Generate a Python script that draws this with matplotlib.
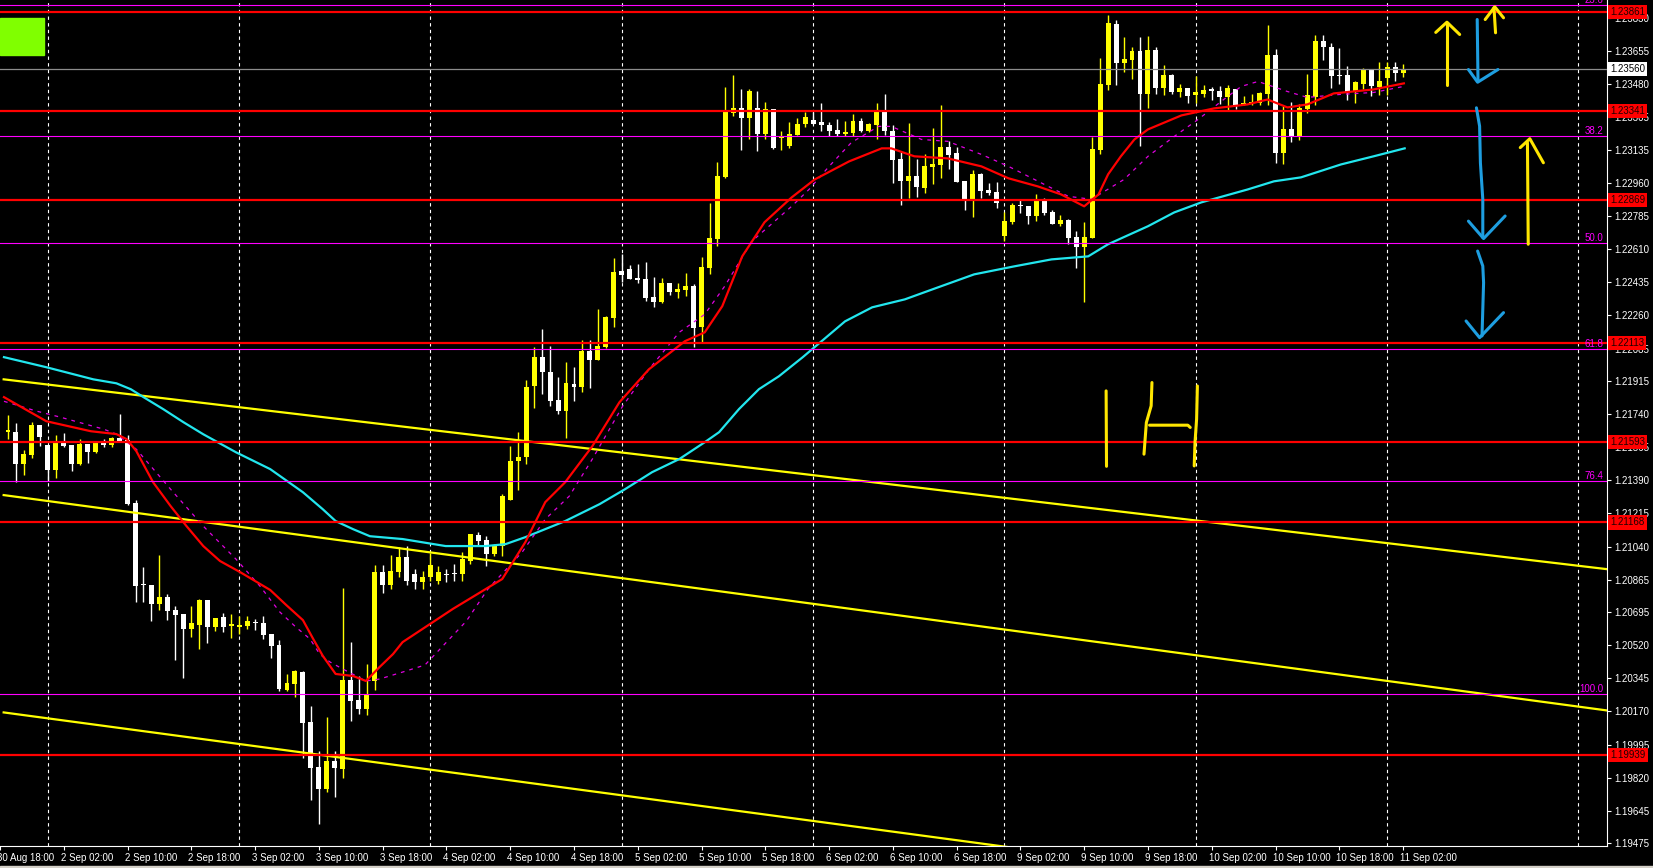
import matplotlib.pyplot as plt
import matplotlib.transforms as mtransforms
import numpy as np
from matplotlib.patches import Rectangle

plt.rcParams["font.family"] = ["Liberation Sans", "DejaVu Sans"]

# EURUSD H1, bar index 0 = 2 Sep 00:00 (weekend gap removed)
first_bar = -5
opens = [
    1.21644, 1.21644, 1.21476, 1.21523, 1.21681, 1.21576, 1.21444, 1.21592, 1.21576, 1.21476,
    1.21581, 1.21539, 1.21592, 1.21576, 1.21613, 1.21602, 1.21270, 1.20843, 1.20837, 1.20737,
    1.20774, 1.20706, 1.20685, 1.20605, 1.20626, 1.20758, 1.20616, 1.20669, 1.20621, 1.20616,
    1.20621, 1.20642, 1.20637, 1.20579, 1.20521, 1.20284, 1.20315, 1.20379, 1.20115, 1.19878,
    1.19762, 1.19909, 1.19867, 1.20336, 1.20231, 1.20183, 1.20331, 1.20906, 1.20837, 1.20906,
    1.20985, 1.20895, 1.20853, 1.20880, 1.20859, 1.20895, 1.20895, 1.20895, 1.20964, 1.21101,
    1.21075, 1.21001, 1.21043, 1.21286, 1.21491, 1.21512, 1.21887, 1.22040, 1.21961, 1.21813,
    1.21755, 1.21897, 1.21882, 1.22072, 1.22024, 1.22093, 1.22246, 1.22493, 1.22504, 1.22457,
    1.22451, 1.22356, 1.22330, 1.22430, 1.22383, 1.22393, 1.22414, 1.22198, 1.22509, 1.22662,
    1.22989, 1.23327, 1.23353, 1.23300, 1.23353, 1.23216, 1.23348, 1.23195, 1.23153, 1.23211,
    1.23269, 1.23290, 1.23279, 1.23264, 1.23237, 1.23216, 1.23221, 1.23285, 1.23232, 1.23264,
    1.23337, 1.23232, 1.23084, 1.22968, 1.22995, 1.22931, 1.23042, 1.23052, 1.23147, 1.23116,
    1.22968, 1.22873, 1.23005, 1.22921, 1.22910, 1.22678, 1.22752, 1.22842, 1.22836, 1.22784,
    1.22868, 1.22805, 1.22741, 1.22762, 1.22673, 1.22620, 1.22667, 1.23132, 1.23474, 1.23796,
    1.23590, 1.23606, 1.23654, 1.23427, 1.23659, 1.23459, 1.23527, 1.23437, 1.23459, 1.23422,
    1.23427, 1.23453, 1.23443, 1.23411, 1.23453, 1.23369, 1.23374, 1.23380, 1.23427, 1.23633,
    1.23116, 1.23242, 1.23206, 1.23348, 1.23411, 1.23707, 1.23675, 1.23527, 1.23527, 1.23437,
    1.23480, 1.23554, 1.23464, 1.23511, 1.23569, 1.23538,
]
highs = [
    1.21734, 1.21692, 1.21549, 1.21697, 1.21681, 1.21576, 1.21628, 1.21639, 1.21576, 1.21607,
    1.21581, 1.21592, 1.21607, 1.21618, 1.21739, 1.21628, 1.21286, 1.20932, 1.20837, 1.20996,
    1.20790, 1.20727, 1.20685, 1.20727, 1.20764, 1.20758, 1.20663, 1.20690, 1.20685, 1.20674,
    1.20674, 1.20658, 1.20674, 1.20579, 1.20547, 1.20368, 1.20389, 1.20384, 1.20199, 1.19962,
    1.20141, 1.19962, 1.20822, 1.20537, 1.20357, 1.20421, 1.20943, 1.20943, 1.20996, 1.21038,
    1.21043, 1.20922, 1.20911, 1.21006, 1.20938, 1.20922, 1.20948, 1.21011, 1.21106, 1.21117,
    1.21096, 1.21054, 1.21317, 1.21570, 1.21644, 1.21919, 1.22093, 1.22188, 1.22098, 1.21934,
    1.22014, 1.21987, 1.22130, 1.22130, 1.22293, 1.22256, 1.22562, 1.22583, 1.22525, 1.22530,
    1.22541, 1.22462, 1.22457, 1.22430, 1.22430, 1.22483, 1.22425, 1.22567, 1.22852, 1.23068,
    1.23464, 1.23527, 1.23453, 1.23453, 1.23443, 1.23385, 1.23348, 1.23232, 1.23279, 1.23300,
    1.23332, 1.23332, 1.23380, 1.23279, 1.23295, 1.23285, 1.23322, 1.23300, 1.23274, 1.23380,
    1.23427, 1.23264, 1.23121, 1.23274, 1.23084, 1.23111, 1.23248, 1.23369, 1.23179, 1.23147,
    1.22968, 1.23026, 1.23010, 1.22958, 1.22963, 1.22805, 1.22852, 1.22873, 1.22836, 1.22900,
    1.22879, 1.22815, 1.22789, 1.22768, 1.22704, 1.22752, 1.23200, 1.23617, 1.23844, 1.23817,
    1.23728, 1.23675, 1.23728, 1.23733, 1.23675, 1.23580, 1.23532, 1.23480, 1.23459, 1.23522,
    1.23474, 1.23464, 1.23469, 1.23474, 1.23453, 1.23416, 1.23427, 1.23437, 1.23791, 1.23664,
    1.23364, 1.23385, 1.23374, 1.23532, 1.23738, 1.23738, 1.23696, 1.23670, 1.23575, 1.23496,
    1.23564, 1.23554, 1.23596, 1.23596, 1.23596, 1.23585,
]
lows = [
    1.21607, 1.21381, 1.21418, 1.21507, 1.21570, 1.21386, 1.21402, 1.21565, 1.21439, 1.21470,
    1.21481, 1.21534, 1.21565, 1.21565, 1.21597, 1.21259, 1.20748, 1.20748, 1.20648, 1.20706,
    1.20653, 1.20442, 1.20347, 1.20563, 1.20500, 1.20531, 1.20595, 1.20590, 1.20558, 1.20579,
    1.20605, 1.20600, 1.20553, 1.20452, 1.20278, 1.20278, 1.20247, 1.19925, 1.19704, 1.19577,
    1.19746, 1.19719, 1.19820, 1.20120, 1.20157, 1.20152, 1.20284, 1.20795, 1.20816, 1.20880,
    1.20837, 1.20816, 1.20816, 1.20859, 1.20843, 1.20853, 1.20859, 1.20859, 1.20948, 1.21043,
    1.20938, 1.20990, 1.20990, 1.21286, 1.21338, 1.21476, 1.21771, 1.21845, 1.21782, 1.21739,
    1.21613, 1.21808, 1.21855, 1.21876, 1.22024, 1.22087, 1.22198, 1.22435, 1.22451, 1.22430,
    1.22335, 1.22304, 1.22325, 1.22367, 1.22351, 1.22362, 1.22093, 1.22114, 1.22478, 1.22625,
    1.22984, 1.23311, 1.23132, 1.23190, 1.23126, 1.23190, 1.23137, 1.23132, 1.23142, 1.23211,
    1.23253, 1.23269, 1.23232, 1.23206, 1.23206, 1.23206, 1.23206, 1.23227, 1.23227, 1.23190,
    1.23211, 1.22958, 1.22842, 1.22879, 1.22884, 1.22905, 1.22952, 1.22984, 1.23031, 1.22963,
    1.22815, 1.22778, 1.22879, 1.22894, 1.22826, 1.22652, 1.22741, 1.22799, 1.22741, 1.22757,
    1.22789, 1.22741, 1.22731, 1.22636, 1.22509, 1.22330, 1.22667, 1.23111, 1.23448, 1.23474,
    1.23543, 1.23506, 1.23153, 1.23353, 1.23427, 1.23422, 1.23427, 1.23411, 1.23380, 1.23380,
    1.23411, 1.23395, 1.23374, 1.23343, 1.23348, 1.23369, 1.23369, 1.23369, 1.23369, 1.23063,
    1.23058, 1.23174, 1.23184, 1.23327, 1.23369, 1.23606, 1.23459, 1.23480, 1.23395, 1.23380,
    1.23453, 1.23416, 1.23422, 1.23422, 1.23496, 1.23517,
]
closes = [
    1.21655, 1.21476, 1.21528, 1.21681, 1.21618, 1.21444, 1.21592, 1.21570, 1.21476, 1.21581,
    1.21539, 1.21592, 1.21576, 1.21613, 1.21597, 1.21265, 1.20832, 1.20837, 1.20737, 1.20774,
    1.20700, 1.20679, 1.20605, 1.20637, 1.20758, 1.20616, 1.20663, 1.20616, 1.20632, 1.20626,
    1.20648, 1.20637, 1.20574, 1.20516, 1.20289, 1.20321, 1.20384, 1.20110, 1.19872, 1.19762,
    1.19909, 1.19872, 1.20336, 1.20226, 1.20183, 1.20257, 1.20906, 1.20837, 1.20911, 1.20985,
    1.20859, 1.20853, 1.20880, 1.20943, 1.20906, 1.20890, 1.20895, 1.20975, 1.21106, 1.21070,
    1.21001, 1.21048, 1.21307, 1.21491, 1.21512, 1.21882, 1.22040, 1.21961, 1.21808, 1.21755,
    1.21903, 1.21882, 1.22072, 1.22024, 1.22098, 1.22251, 1.22488, 1.22472, 1.22451, 1.22446,
    1.22351, 1.22330, 1.22430, 1.22383, 1.22399, 1.22414, 1.22193, 1.22515, 1.22667, 1.22995,
    1.23332, 1.23353, 1.23300, 1.23443, 1.23216, 1.23348, 1.23142, 1.23206, 1.23216, 1.23269,
    1.23306, 1.23269, 1.23264, 1.23232, 1.23216, 1.23227, 1.23285, 1.23232, 1.23269, 1.23337,
    1.23232, 1.23079, 1.22968, 1.22995, 1.22937, 1.23047, 1.23058, 1.23147, 1.23105, 1.22963,
    1.22873, 1.23005, 1.22915, 1.22905, 1.22852, 1.22757, 1.22842, 1.22836, 1.22784, 1.22868,
    1.22799, 1.22741, 1.22762, 1.22667, 1.22620, 1.22673, 1.23137, 1.23480, 1.23801, 1.23590,
    1.23612, 1.23654, 1.23427, 1.23659, 1.23459, 1.23527, 1.23437, 1.23459, 1.23416, 1.23437,
    1.23448, 1.23443, 1.23411, 1.23459, 1.23369, 1.23380, 1.23385, 1.23432, 1.23633, 1.23116,
    1.23242, 1.23206, 1.23353, 1.23422, 1.23707, 1.23675, 1.23522, 1.23522, 1.23437, 1.23490,
    1.23554, 1.23469, 1.23496, 1.23569, 1.23538, 1.23560,
]

# moving averages: (bar index, price)
red_ma_x = [-5.5, -0.2, 5.4, 8.6, 9.9, 11.1, 13.2, 15.4, 17.4, 19.5, 21.6, 24.1, 27.9, 29.9, 32.0,
            33.3, 34.5, 36.1, 38.3, 39.9, 41.6, 43.3, 44.5, 50.8, 57.0, 59.9, 62.4, 64.9, 68.3,
            71.7, 75.4, 79.9, 82.4, 84.6, 87.1, 89.9, 93.3, 96.2, 100.5, 104.6, 105.8, 108.7,
            112.9, 117.1, 120.5, 124.2, 127.1, 130.0, 131.8, 133.0, 134.6, 136.3, 138.0, 142.2,
            146.3, 150.5, 153.0, 155.5, 158.0, 161.3, 166.3, 170.1]
red_ma_y = [1.21829, 1.21702, 1.21649, 1.21634, 1.21607, 1.21544, 1.21380, 1.21254, 1.21148,
            1.21043, 1.20964, 1.20906, 1.20811, 1.20732, 1.20652, 1.20552, 1.20463, 1.20368,
            1.20357, 1.20331, 1.20404, 1.20473, 1.20536, 1.20711, 1.20869, 1.21064, 1.21275,
            1.21380, 1.21570, 1.21802, 1.21976, 1.22124, 1.22171, 1.22309, 1.22572, 1.22752,
            1.22883, 1.22978, 1.23073, 1.23142, 1.23142, 1.23100, 1.23089, 1.23047, 1.22984,
            1.22941, 1.22899, 1.22836, 1.22899, 1.23005, 1.23100, 1.23189, 1.23242, 1.23316,
            1.23353, 1.23374, 1.23400, 1.23358, 1.23374, 1.23432, 1.23453, 1.23485]
mag_ma_x = [-5.5, -1.4, 1.6, 7.0, 8.6, 11.1, 15.4, 19.5, 23.6, 26.6, 29.1, 31.1, 32.9, 34.1, 35.4,
            37.0, 39.9, 41.6, 44.5, 47.3, 52.5, 55.2, 59.5, 62.4, 65.4, 68.3, 72.1, 75.4, 79.2,
            82.4, 84.9, 88.3, 93.3, 95.5, 98.0, 100.8, 104.2, 105.8, 109.6, 112.9, 117.1, 120.5,
            125.5, 128.0, 130.9, 135.0, 138.0, 141.3, 144.3, 147.5, 149.7, 151.8, 155.5, 158.0,
            162.2, 166.3, 170.1]
mag_ma_y = [1.21807, 1.21755, 1.21723, 1.21660, 1.21634, 1.21554, 1.21343, 1.21148, 1.20974,
            1.20832, 1.20695, 1.20616, 1.20552, 1.20473, 1.20431, 1.20394, 1.20331, 1.20341,
            1.20378, 1.20415, 1.20647, 1.20816, 1.21011, 1.21185, 1.21306, 1.21502, 1.21781,
            1.21976, 1.22171, 1.22266, 1.22414, 1.22651, 1.22836, 1.22926, 1.23047, 1.23173,
            1.23258, 1.23258, 1.23189, 1.23179, 1.23110, 1.23047, 1.22941, 1.22889, 1.22873,
            1.22978, 1.23100, 1.23205, 1.23295, 1.23400, 1.23469, 1.23495, 1.23442, 1.23411,
            1.23427, 1.23437, 1.23469]
cyan_ma_x = [-5.5, -0.2, 5.7, 8.6, 10.4, 12.0, 14.5, 17.0, 19.5, 23.6, 27.9, 32.0, 34.5, 36.1,
             38.3, 40.4, 44.5, 49.9, 54.9, 57.4, 59.9, 64.9, 69.2, 72.4, 75.8, 79.2, 82.4, 84.2,
             86.7, 89.2, 91.7, 94.7, 100.0, 103.4, 107.5, 111.7, 116.2, 121.2, 125.9, 130.5,
             133.0, 138.0, 141.3, 144.7, 150.5, 153.8, 157.2, 162.2, 166.3, 170.2]
cyan_ma_y = [1.22040, 1.21987, 1.21923, 1.21902, 1.21871, 1.21829, 1.21765, 1.21697, 1.21633,
             1.21538, 1.21449, 1.21327, 1.21237, 1.21175, 1.21132, 1.21095, 1.21080, 1.21043,
             1.21043, 1.21053, 1.21090, 1.21175, 1.21264, 1.21343, 1.21433, 1.21502, 1.21591,
             1.21644, 1.21766, 1.21871, 1.21939, 1.22040, 1.22229, 1.22303, 1.22345, 1.22409,
             1.22477, 1.22519, 1.22556, 1.22572, 1.22636, 1.22731, 1.22804, 1.22857, 1.22925,
             1.22968, 1.22989, 1.23057, 1.23100, 1.23142]

# horizontal levels
red_levels = [1.23861, 1.23341, 1.22869, 1.22113, 1.21593, 1.21168, 1.19939]
fib_names = ["23.6", "38.2", "50.0", "61.8", "76.4", "100.0"]
fib_levels = [1.23896, 1.23205, 1.22640, 1.22082, 1.21385, 1.20263]
bid_price = 1.23560

# descending channel (start bar, start price, end bar, end price)
channel_lines = [
    (-5.54, 1.21923, 196.0, 1.20919),
    (-5.54, 1.21312, 196.0, 1.20173),
    (-5.54, 1.20165, 196.0, 1.19028),
]

price_ticks = [1.23830, 1.23655, 1.23480, 1.23305, 1.23135, 1.22960, 1.22785, 1.22610, 1.22435,
               1.22260, 1.22085, 1.21915, 1.21740, 1.21565, 1.21390, 1.21215, 1.21040, 1.20865,
               1.20695, 1.20520, 1.20345, 1.20170, 1.19995, 1.19820, 1.19645, 1.19475]
time_labels = ["30 Aug 18:00", "2 Sep 02:00", "2 Sep 10:00", "2 Sep 18:00", "3 Sep 02:00",
               "3 Sep 10:00", "3 Sep 18:00", "4 Sep 02:00", "4 Sep 10:00", "4 Sep 18:00",
               "5 Sep 02:00", "5 Sep 10:00", "5 Sep 18:00", "6 Sep 02:00", "6 Sep 10:00",
               "6 Sep 18:00", "9 Sep 02:00", "9 Sep 10:00", "9 Sep 18:00", "10 Sep 02:00",
               "10 Sep 10:00", "10 Sep 18:00", "11 Sep 02:00"]
day_starts = [0, 24, 48, 72, 96, 120, 144, 168, 192]

# hand drawn marks (bar index, price)
yellow_strokes = [
    ([175.5, 175.5], [1.23479, 1.23806]),
    ([174.1, 175.5, 177.1], [1.23754, 1.23808, 1.23743]),
    ([181.6, 181.4], [1.23752, 1.23884]),
    ([180.3, 181.5, 182.6], [1.23822, 1.23889, 1.23831]),
    ([185.7, 185.6], [1.22636, 1.23172]),
    ([184.7, 185.9, 187.6], [1.23146, 1.23193, 1.23066]),
    ([132.75, 132.8], [1.21862, 1.21464]),
    ([138.5, 138.4, 137.8, 137.5], [1.21906, 1.21783, 1.21695, 1.21528]),
    ([138.2, 143.0, 143.3], [1.21681, 1.21681, 1.21669]),
    ([144.2, 144.1, 143.9, 143.8], [1.21888, 1.21713, 1.21590, 1.21466]),
]
blue_strokes = [
    ([179.3, 179.4], [1.23822, 1.23497]),
    ([178.2, 179.35, 181.9], [1.23558, 1.23491, 1.23558]),
    ([179.2, 179.6, 179.7, 180.0, 180.0], [1.23356, 1.23259, 1.23066, 1.22873, 1.22671]),
    ([178.2, 180.1, 182.8], [1.22758, 1.22666, 1.22785]),
    ([179.35, 180.0, 180.1, 179.9], [1.22600, 1.22521, 1.22433, 1.22152]),
    ([177.9, 179.6, 182.6], [1.22231, 1.22143, 1.22275]),
]

W, H = 1653, 868
fig = plt.figure(figsize=(W / 100, H / 100), dpi=100, facecolor="black")
ax = fig.add_axes([0, 22 / H, 1607 / W, 846 / H], facecolor="black")

x = np.arange(first_bar, first_bar + len(opens))
o = np.array(opens)
c = np.array(closes)
bull = c > o
cols = np.where(bull, "#FFFF00", "#FFFFFF")

# vertical day grid
for d in day_starts:
    ax.axvline(d, color="white", lw=0.8, ls=(0, (3, 3)), zorder=1)

ax.vlines(x, lows, highs, colors=cols, lw=1, zorder=3)
body = np.maximum(np.abs(c - o), 0.00006)
ax.bar(x, body, bottom=np.minimum(o, c), width=0.62, color=cols, lw=0, zorder=3)

for x0, y0, x1, y1 in channel_lines:
    ax.plot([x0, x1], [y0, y1], color="#FFFF00", lw=1.6, zorder=4)

ax.plot(cyan_ma_x, cyan_ma_y, color="#22E6EE", lw=1.6, zorder=5)
ax.plot(mag_ma_x, mag_ma_y, color="#E000E0", lw=0.9, ls=(0, (3, 4)), zorder=5)
ax.plot(red_ma_x, red_ma_y, color="#FF0000", lw=1.6, zorder=5)

for p in fib_levels:
    ax.axhline(p, color="#FF00FF", lw=0.8, zorder=6)
for p in red_levels:
    ax.axhline(p, color="#FF0000", lw=1.6, zorder=6)
ax.axhline(bid_price, color="#8C8C8C", lw=0.9, zorder=6)

ytr = ax.get_yaxis_transform()
for name, p in zip(fib_names, fib_levels):
    ax.text(0.998, p, name, transform=ytr, ha="right", va="bottom", color="#FF00FF",
            fontsize=7, zorder=7)

for xs, ys in yellow_strokes:
    ax.plot(xs, ys, color="#FFE600", lw=2.2, solid_capstyle="round", solid_joinstyle="round",
            zorder=8)
for xs, ys in blue_strokes:
    ax.plot(xs, ys, color="#1E9EE0", lw=2.2, solid_capstyle="round", solid_joinstyle="round",
            zorder=8)

ax.add_patch(Rectangle((0, 1 - 55 / 846), 44 / 1607, 37 / 846, transform=ax.transAxes,
                       color="#80FF00", zorder=9))

ax.set_xlim(-5.54, 195.58)
ax.set_ylim(1.19460, 1.23925)

# price scale on the right
ax.yaxis.tick_right()
ax.set_yticks(price_ticks, [f"{v:.5f}" for v in price_ticks])
ax.tick_params(axis="y", colors="white", labelsize=7, length=3, width=0.8, pad=2)
ax.set_xticks(np.arange(-6, 171, 8), time_labels)
ax.tick_params(axis="x", colors="white", labelsize=7, length=3, width=0.8, pad=2)
shift = mtransforms.ScaledTranslation(-3 / 100, 0, fig.dpi_scale_trans)
for lbl in ax.get_xticklabels():
    lbl.set_ha("left")
    lbl.set_transform(lbl.get_transform() + shift)
for side in ["top", "left"]:
    ax.spines[side].set_visible(False)
for side in ["right", "bottom"]:
    ax.spines[side].set_color("white")
    ax.spines[side].set_linewidth(0.8)

for p in red_levels:
    ax.text(1.002, p, f"{p:.5f}", transform=ytr, ha="left", va="center", fontsize=7,
            color="#200000", clip_on=False, zorder=10,
            bbox=dict(boxstyle="square,pad=0.22", fc="#FF0000", ec="none"))
ax.text(1.002, bid_price, f"{bid_price:.5f}", transform=ytr, ha="left", va="center",
        fontsize=7, color="black", clip_on=False, zorder=10,
        bbox=dict(boxstyle="square,pad=0.22", fc="white", ec="none"))

fig.patches.append(Rectangle((0, 0), 1, 2 / H, transform=fig.transFigure, color="#D4D0C8"))

fig.savefig("out.png", dpi=100, facecolor="black")
